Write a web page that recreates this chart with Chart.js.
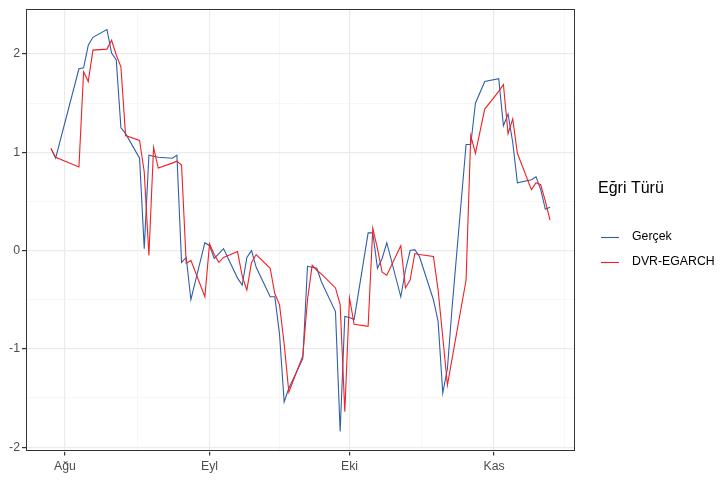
<!DOCTYPE html>
<html>
<head>
<meta charset="utf-8">
<script src="https://cdn.jsdelivr.net/npm/chart.js@4.4.0/dist/chart.umd.min.js"></script>
<style>
  html, body { margin: 0; padding: 0; background: #ffffff; }
  canvas { display: block; }
</style>
</head>
<body>
<canvas id="chart" width="721" height="480"></canvas>
<script>
// Trading days (2020)
const dates = [
  '2020-07-29','2020-07-30','2020-08-04','2020-08-05','2020-08-06','2020-08-07','2020-08-10','2020-08-11',
  '2020-08-12','2020-08-13','2020-08-14','2020-08-17','2020-08-18','2020-08-19','2020-08-20','2020-08-21',
  '2020-08-24','2020-08-25','2020-08-26','2020-08-27','2020-08-28','2020-08-31','2020-09-01','2020-09-02',
  '2020-09-03','2020-09-04','2020-09-07','2020-09-08','2020-09-09','2020-09-10','2020-09-11','2020-09-14',
  '2020-09-15','2020-09-16','2020-09-17','2020-09-18','2020-09-21','2020-09-22','2020-09-23','2020-09-24',
  '2020-09-25','2020-09-28','2020-09-29','2020-09-30','2020-10-01','2020-10-02','2020-10-05','2020-10-06',
  '2020-10-07','2020-10-08','2020-10-09','2020-10-12','2020-10-13','2020-10-14','2020-10-15','2020-10-16',
  '2020-10-19','2020-10-20','2020-10-21','2020-10-22','2020-10-23','2020-10-26','2020-10-27','2020-10-28',
  '2020-10-30','2020-11-02','2020-11-03','2020-11-04','2020-11-05','2020-11-06','2020-11-09','2020-11-10',
  '2020-11-11','2020-11-12','2020-11-13'
];

// Observed curve
const gercek = [
  1.04, 0.94, 1.85, 1.86, 2.09, 2.17, 2.25, 2.01, 1.94, 1.25, 1.19, 0.94, 0.02, 0.97, 0.96, 0.95,
  0.94, 0.97, -0.12, -0.07, -0.50, 0.08, 0.05, -0.08, -0.03, 0.02, -0.28, -0.35, -0.07, 0.00, -0.17, -0.47,
  -0.47, -0.85, -1.54, -1.40, -1.10, -0.16, -0.17, -0.18, -0.32, -0.62, -1.84, -0.67, -0.68, -0.70, 0.18, 0.18,
  -0.18, -0.08, 0.08, -0.47, -0.20, 0.00, 0.01, -0.06, -0.50, -0.72, -1.45, -1.20, -0.58, 1.08, 1.08, 1.50,
  1.72, 1.75, 1.27, 1.39, 1.10, 0.69, 0.72, 0.75, 0.62, 0.42, 0.44
];

// DVR-EGARCH curve
const dvrEgarch = [
  1.04, 0.95, 0.85, 1.82, 1.72, 2.04, 2.05, 2.14, 1.99, 1.87, 1.17, 1.12, 0.80, -0.05, 1.05, 0.84,
  0.89, 0.91, 0.87, -0.13, -0.10, -0.47, 0.07, -0.04, -0.12, -0.07, -0.01, -0.26, -0.40, -0.12, -0.04, -0.18,
  -0.44, -0.55, -0.95, -1.44, -1.07, -0.50, -0.15, -0.20, -0.24, -0.38, -0.55, -1.64, -0.48, -0.75, -0.77, 0.23,
  0.02, -0.22, -0.25, 0.05, -0.38, -0.30, -0.03, -0.04, -0.06, -0.40, -0.88, -1.37, -1.10, -0.30, 1.17, 0.99,
  1.44, 1.62, 1.69, 1.19, 1.34, 0.99, 0.62, 0.69, 0.67, 0.50, 0.31
];

// Axis breaks
const monthStarts = ['2020-08-01', '2020-09-01', '2020-10-01', '2020-11-01'];
const monthLabels = ['Ağu', 'Eyl', 'Eki', 'Kas'];
const nextMonthStart = '2020-12-01';
const yBreaks = [-2, -1, 0, 1, 2];

const legendTitle = 'Eğri Türü';
const seriesNames = ['Gerçek', 'DVR-EGARCH'];
const seriesColors = ['#2f5eab', '#f21f23'];

// ---- helpers ----
const BASE = Date.UTC(2020, 7, 1);
const toDay = s => (Date.parse(s + 'T00:00:00Z') - BASE) / 864e5;
const xDays = dates.map(toDay);

const xMajor = monthStarts.map(toDay);
const xExt = [...xMajor, toDay(nextMonthStart)];
const xMinor = xExt.slice(1).map((v, i) => (v + xExt[i]) / 2);
const yMinor = yBreaks.slice(1).map((v, i) => (v + yBreaks[i]) / 2);

// 5% expansion on both axes
const xSpan = xDays[xDays.length - 1] - xDays[0];
const xMin = xDays[0] - 0.05 * xSpan, xMax = xDays[xDays.length - 1] + 0.05 * xSpan;
const allY = gercek.concat(dvrEgarch);
const yLo = Math.min(...allY), yHi = Math.max(...allY), ySpan = yHi - yLo;
const yMin = yLo - 0.05 * ySpan, yMax = yHi + 0.05 * ySpan;

const isIn = (arr, v) => arr.some(a => Math.abs(a - v) < 1e-6);

const FONT = "'Liberation Sans', Arial, Helvetica, sans-serif";

const panelBorder = {
  id: 'panelBorder',
  afterDatasetsDraw(chart) {
    const { ctx, chartArea: a } = chart;
    ctx.save();
    ctx.strokeStyle = '#333333';
    ctx.lineWidth = 1;
    ctx.strokeRect(Math.round(a.left) + 0.5, Math.round(a.top) + 0.5,
                   Math.round(a.right - a.left) - 1, Math.round(a.bottom - a.top) - 1);
    ctx.restore();
  }
};

const sideLegend = {
  id: 'sideLegend',
  afterDraw(chart) {
    const ctx = chart.ctx;
    ctx.save();
    ctx.fillStyle = '#000000';
    ctx.textBaseline = 'middle';
    ctx.textAlign = 'left';
    ctx.font = '16px ' + FONT;
    ctx.fillText(legendTitle, 598, 189);
    ctx.font = '12.3px ' + FONT;
    const rows = [237, 262];
    seriesNames.forEach((name, i) => {
      ctx.strokeStyle = seriesColors[i];
      ctx.lineWidth = 1.1;
      ctx.beginPath();
      ctx.moveTo(601, rows[i] + 0.5);
      ctx.lineTo(619, rows[i] + 0.5);
      ctx.stroke();
      ctx.fillStyle = '#000000';
      ctx.fillText(name, 632, rows[i]);
    });
    ctx.restore();
  }
};

const series = [gercek, dvrEgarch];

new Chart(document.getElementById('chart'), {
  type: 'line',
  data: {
    datasets: series.map((vals, i) => ({
      label: seriesNames[i],
      data: vals.map((v, k) => ({ x: xDays[k], y: v })),
      borderColor: seriesColors[i],
      backgroundColor: seriesColors[i],
      borderWidth: 1.1,
      pointRadius: 0,
      tension: 0,
      fill: false,
      order: i === 0 ? 1 : 0
    }))
  },
  options: {
    responsive: false,
    animation: false,
    devicePixelRatio: 1,
    events: [],
    layout: { padding: { left: 0, top: 2, right: 146, bottom: 0 } },
    plugins: { legend: { display: false }, tooltip: { enabled: false } },
    scales: {
      x: {
        type: 'linear',
        min: xMin,
        max: xMax,
        afterBuildTicks: s => { s.ticks = [...xMajor, ...xMinor].sort((a, b) => a - b).map(v => ({ value: v })); },
        afterFit: s => { s.height = 28.5; },
        ticks: {
          autoSkip: false, maxRotation: 0, minRotation: 0, padding: 4,
          color: '#4d4d4d', font: { family: FONT, size: 12.3 },
          callback: v => { const i = xMajor.findIndex(m => Math.abs(m - v) < 1e-6); return i >= 0 ? monthLabels[i] : ''; }
        },
        grid: {
          color: c => isIn(xMajor, c.tick.value) ? '#ebebeb' : '#f4f4f4',
          lineWidth: c => isIn(xMajor, c.tick.value) ? 1.2 : 0.7,
          tickColor: c => isIn(xMajor, c.tick.value) ? '#333333' : 'rgba(0,0,0,0)',
          tickLength: 4
        },
        border: { display: false }
      },
      y: {
        type: 'linear',
        min: yMin,
        max: yMax,
        afterBuildTicks: s => { s.ticks = [...yBreaks, ...yMinor].sort((a, b) => a - b).map(v => ({ value: v })); },
        afterFit: s => { s.width = 26; },
        ticks: {
          autoSkip: false, padding: 2,
          color: '#4d4d4d', font: { family: FONT, size: 12.3 },
          callback: v => isIn(yBreaks, v) ? String(Math.round(v)) : ''
        },
        grid: {
          color: c => isIn(yBreaks, c.tick.value) ? '#ebebeb' : '#f4f4f4',
          lineWidth: c => isIn(yBreaks, c.tick.value) ? 1.2 : 0.7,
          tickColor: c => isIn(yBreaks, c.tick.value) ? '#333333' : 'rgba(0,0,0,0)',
          tickLength: 4
        },
        border: { display: false }
      }
    }
  },
  plugins: [panelBorder, sideLegend]
});
</script>
</body>
</html>
